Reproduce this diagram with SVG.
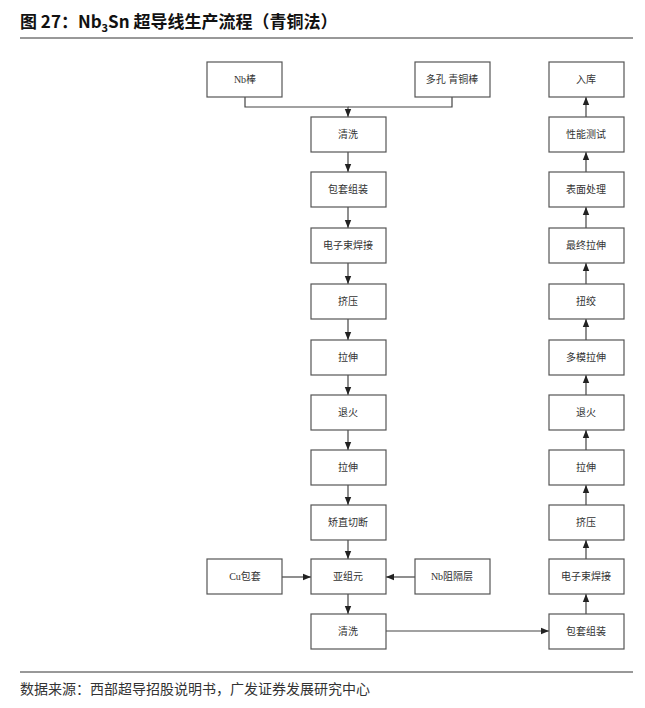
<svg xmlns="http://www.w3.org/2000/svg" width="645" height="708" viewBox="0 0 645 708">
<style>
.b{fill:#fff;stroke:#555;stroke-width:1.2}
.t{font-family:"Liberation Serif","Noto Sans CJK SC",serif;font-size:10px;fill:#333;text-anchor:middle}
.c{stroke:#444;stroke-width:1.2;fill:none;marker-end:url(#a)}
</style>
<defs><marker id="a" viewBox="0 0 10 10" refX="10" refY="5" markerWidth="7" markerHeight="7" orient="auto"><path d="M0,1L10,5L0,9z" fill="#222"/></marker></defs>
<rect width="645" height="708" fill="#fff"/>
<text x="20" y="28" font-family="'Noto Sans CJK SC',sans-serif" font-size="17" font-weight="bold" fill="#111">图 27：Nb<tspan font-size="11" dy="4">3</tspan><tspan dy="-4">Sn 超导线生产流程（青铜法）</tspan></text>
<line x1="20" y1="38" x2="633" y2="38" stroke="#333" stroke-width="1"/>
<line x1="20" y1="672" x2="633" y2="672" stroke="#333" stroke-width="1"/>
<text x="20" y="694" font-family="'Noto Sans CJK SC',sans-serif" font-size="14" fill="#333">数据来源：西部超导招股说明书，广发证券发展研究中心</text>
<g id="connectors">
<path class="c" d="M245,97V107H348V117"/>
<path d="M452,97V107H348" stroke="#444" stroke-width="1.2" fill="none"/>
<path class="c" d="M348,152V172"/><path class="c" d="M348,207V228"/><path class="c" d="M348,263V284"/><path class="c" d="M348,319V340"/><path class="c" d="M348,375V395"/><path class="c" d="M348,430V450"/><path class="c" d="M348,485V505"/><path class="c" d="M348,540V559"/>
<path class="c" d="M282,577H311"/><path class="c" d="M415,577H386"/>
<path class="c" d="M348,594V614"/><path class="c" d="M386,631H549"/>
<path class="c" d="M586,614V594"/><path class="c" d="M586,559V540"/><path class="c" d="M586,505V485"/><path class="c" d="M586,450V430"/><path class="c" d="M586,395V375"/><path class="c" d="M586,340V319"/><path class="c" d="M586,284V263"/><path class="c" d="M586,228V207"/><path class="c" d="M586,172V152"/><path class="c" d="M586,117V97"/>
</g>
<g id="n1"><rect class="b" x="207" y="62" width="75" height="35"/><text class="t" x="245" y="83">Nb棒</text></g>
<g id="n2"><rect class="b" x="415" y="62" width="75" height="35"/><text class="t" x="452" y="83">多孔 青铜棒</text></g>
<g id="c1"><rect class="b" x="311" y="117" width="75" height="35"/><text class="t" x="348" y="138">清洗</text></g>
<g id="c2"><rect class="b" x="311" y="172" width="75" height="35"/><text class="t" x="348" y="193">包套组装</text></g>
<g id="c3"><rect class="b" x="311" y="228" width="75" height="35"/><text class="t" x="348" y="249">电子束焊接</text></g>
<g id="c4"><rect class="b" x="311" y="284" width="75" height="35"/><text class="t" x="348" y="305">挤压</text></g>
<g id="c5"><rect class="b" x="311" y="340" width="75" height="35"/><text class="t" x="348" y="361">拉伸</text></g>
<g id="c6"><rect class="b" x="311" y="395" width="75" height="35"/><text class="t" x="348" y="416">退火</text></g>
<g id="c7"><rect class="b" x="311" y="450" width="75" height="35"/><text class="t" x="348" y="471">拉伸</text></g>
<g id="c8"><rect class="b" x="311" y="505" width="75" height="35"/><text class="t" x="348" y="526">矫直切断</text></g>
<g id="c9"><rect class="b" x="311" y="559" width="75" height="35"/><text class="t" x="348" y="580">亚组元</text></g>
<g id="c10"><rect class="b" x="311" y="614" width="75" height="35"/><text class="t" x="348" y="635">清洗</text></g>
<g id="cu"><rect class="b" x="207" y="559" width="75" height="35"/><text class="t" x="245" y="580">Cu包套</text></g>
<g id="nb"><rect class="b" x="415" y="559" width="75" height="35"/><text class="t" x="452" y="580">Nb阻隔层</text></g>
<g id="r1"><rect class="b" x="549" y="62" width="75" height="35"/><text class="t" x="586" y="83">入库</text></g>
<g id="r2"><rect class="b" x="549" y="117" width="75" height="35"/><text class="t" x="586" y="138">性能测试</text></g>
<g id="r3"><rect class="b" x="549" y="172" width="75" height="35"/><text class="t" x="586" y="193">表面处理</text></g>
<g id="r4"><rect class="b" x="549" y="228" width="75" height="35"/><text class="t" x="586" y="249">最终拉伸</text></g>
<g id="r5"><rect class="b" x="549" y="284" width="75" height="35"/><text class="t" x="586" y="305">扭绞</text></g>
<g id="r6"><rect class="b" x="549" y="340" width="75" height="35"/><text class="t" x="586" y="361">多模拉伸</text></g>
<g id="r7"><rect class="b" x="549" y="395" width="75" height="35"/><text class="t" x="586" y="416">退火</text></g>
<g id="r8"><rect class="b" x="549" y="450" width="75" height="35"/><text class="t" x="586" y="471">拉伸</text></g>
<g id="r9"><rect class="b" x="549" y="505" width="75" height="35"/><text class="t" x="586" y="526">挤压</text></g>
<g id="r10"><rect class="b" x="549" y="559" width="75" height="35"/><text class="t" x="586" y="580">电子束焊接</text></g>
<g id="r11"><rect class="b" x="549" y="614" width="75" height="35"/><text class="t" x="586" y="635">包套组装</text></g>
</svg>
